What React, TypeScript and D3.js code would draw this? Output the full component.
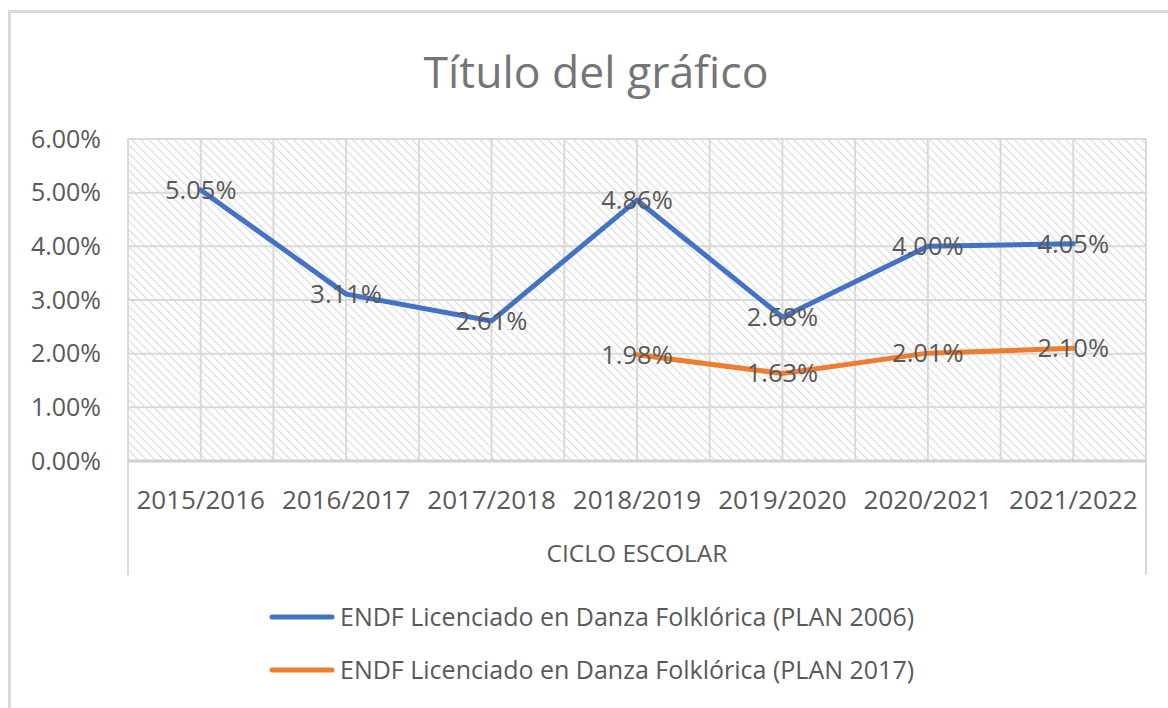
import React from "react";
import * as d3 from "d3";

// data
const ciclos = ["2015/2016", "2016/2017", "2017/2018", "2018/2019", "2019/2020", "2020/2021", "2021/2022"];
const plan2006 = [5.05, 3.11, 2.61, 4.86, 2.68, 4.0, 4.05];
const plan2017 = [null, null, null, 1.98, 1.63, 2.01, 2.1];
const yTicks = [0, 1, 2, 3, 4, 5, 6];
const seriesNames = [
  "ENDF Licenciado en Danza Folklórica (PLAN 2006)",
  "ENDF Licenciado en Danza Folklórica (PLAN 2017)",
];
const colors = ["#4472C4", "#ED7D31"];

const W = 1168, H = 708;
const margin = { left: 128, right: 22, top: 139, bottom: 247 };
const font = "'Open Sans', 'Noto Sans', sans-serif";
const txt = "#595959";
const grid = "#d9d9d9";

export default function App() {
  const x = d3.scaleBand().domain(ciclos).range([margin.left, W - margin.right]);
  const y = d3.scaleLinear().domain([0, 6]).range([H - margin.bottom, margin.top]);
  const cx = (c: string) => (x(c) as number) + x.bandwidth() / 2;

  const line = d3
    .line<number | null>()
    .defined((d) => d != null)
    .x((_, i) => cx(ciclos[i]))
    .y((d) => y(d as number));

  const series = [plan2006, plan2017];
  const x0 = margin.left, x1 = W - margin.right;
  const yb = y(0), yt = y(6);

  // vertical grid at category centres and boundaries
  const vGrid: number[] = [];
  ciclos.forEach((c) => {
    vGrid.push(x(c) as number);
    vGrid.push(cx(c));
  });
  vGrid.push(x1);

  return (
    <svg width={W} height={H} style={{ position: "absolute", left: 0, top: 0 }}>
      <defs>
        <pattern id="hatch" width="6" height="6" patternUnits="userSpaceOnUse" patternTransform="rotate(-45)">
          <rect width="6" height="6" fill="#fff" />
          <line x1="0" y1="0" x2="0" y2="6" stroke="#dadada" strokeWidth="2.2" />
        </pattern>
      </defs>
      <rect x={0} y={0} width={W} height={H} fill="#fff" />
      <path d={`M9.5,${H} V11.5 H${W}`} fill="none" stroke="#d9d9d9" strokeWidth={3} />

      <text x={596} y={88} textAnchor="middle" fontFamily={font} fontSize={44.5} fill="#757575">
        Título del gráfico
      </text>

      <rect x={x0} y={yt} width={x1 - x0} height={yb - yt} fill="url(#hatch)" />
      {yTicks.map((t) => (
        <line key={"h" + t} x1={x0} x2={x1} y1={y(t)} y2={y(t)} stroke={grid} strokeWidth={2} />
      ))}
      {vGrid.map((v, i) => (
        <line key={"v" + i} x1={v} x2={v} y1={yt} y2={yb} stroke={grid} strokeWidth={2} />
      ))}
      <line x1={x0} x2={x1} y1={yb} y2={yb} stroke="#d0d0d0" strokeWidth={3} />
      <line x1={x0} x2={x0} y1={yb} y2={575} stroke="#d9d9d9" strokeWidth={2} />
      <line x1={x1} x2={x1} y1={yb} y2={575} stroke="#d9d9d9" strokeWidth={2} />

      {yTicks.map((t) => (
        <text key={"yt" + t} x={101} y={y(t)} dy="0.35em" textAnchor="end" fontFamily={font} fontSize={25} fill={txt}>
          {(t).toFixed(2)}%
        </text>
      ))}
      {ciclos.map((c) => (
        <text key={c} x={cx(c)} y={509} textAnchor="middle" fontFamily={font} fontSize={26} fill={txt}>
          {c}
        </text>
      ))}
      <text x={(x0 + x1) / 2} y={562} textAnchor="middle" fontFamily={font} fontSize={24.5} fill={txt}>
        CICLO ESCOLAR
      </text>

      {series.map((s, k) => (
        <path key={"l" + k} d={line(s) || ""} fill="none" stroke={colors[k]} strokeWidth={5} strokeLinejoin="round" strokeLinecap="round" />
      ))}
      {series.map((s, k) =>
        s.map((v, i) =>
          v == null ? null : (
            <text key={"d" + k + i} x={cx(ciclos[i])} y={y(v)} dy="0.35em" textAnchor="middle" fontFamily={font} fontSize={25.5} fill={txt}>
              {v.toFixed(2)}%
            </text>
          )
        )
      )}

      {seriesNames.map((n, k) => (
        <g key={n} transform={`translate(0, ${617 + k * 53})`}>
          <line x1={272} x2={332} y1={0} y2={0} stroke={colors[k]} strokeWidth={5} strokeLinecap="round" />
          <text x={340} y={0} dy="0.35em" fontFamily={font} fontSize={25} fill={txt}>
            {n}
          </text>
        </g>
      ))}
    </svg>
  );
}
